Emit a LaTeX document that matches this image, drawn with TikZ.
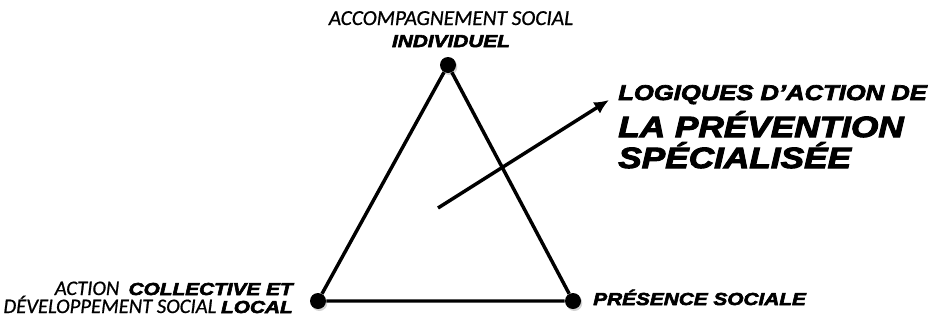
\documentclass[tikz,border=0pt]{standalone}
\usepackage{fontspec}
\setmainfont{Carlito}[FakeBold=0.8]
\newfontfamily\noir[FakeStretch=1.2,FakeBold=3.5]{Liberation Sans}
\usetikzlibrary{arrows.meta,shadows}

\newcommand{\gras}[1]{{\fontsize{13}{15}\noir\bfseries\itshape #1}}

\tikzset{
  sommet/.style={circle,fill=black,inner sep=0pt,minimum size=12pt,
    drop shadow={opacity=0.35,shadow xshift=1pt,shadow yshift=-1.5pt}},
  cote/.style={line width=2.6pt},
  petit/.style={inner sep=0pt,font=\fontsize{15.5}{13.5}\selectfont\itshape},
  grand/.style={inner sep=0pt,font=\fontsize{22}{24}\noir\bfseries\itshape},
}

\begin{document}
\begin{tikzpicture}[x=0.75pt,y=-0.75pt]
  \useasboundingbox (0,0) rectangle (933,322);

  % sommets
  \node[sommet] (haut) at (448,65) {};
  \node[sommet] (gauche) at (318,301) {};
  \node[sommet] (droite) at (573,301) {};

  % triangle
  \draw[cote] (haut) -- (gauche) -- (droite) -- (haut);

  % fleche
  \coordinate (depart) at (438,208);
  \coordinate (pointe) at (609,100);
  \draw[cote,-{Latex[length=11pt,width=10pt]}] (depart) -- (pointe);

  % etiquettes des sommets
  \node[petit,anchor=base,align=center,font=\fontsize{16}{16.5}\selectfont\itshape] (acc) at (451,47)
    {ACCOMPAGNEMENT SOCIAL\\\gras{INDIVIDUEL}};
  \node[petit,anchor=base east,align=right] (act) at (293,313)
    {ACTION\ \ \gras{COLLECTIVE ET}\\DÉVELOPPEMENT SOCIAL \gras{LOCAL}};
  \node[anchor=base west,inner sep=0pt] (pres) at (593,305) {\gras{PRÉSENCE SOCIALE}};

  % titre
  \node[anchor=base west,inner sep=0pt,font=\fontsize{16}{18}\noir\bfseries\itshape] (log) at (618,100) {LOGIQUES D’ACTION DE};
  \node[grand,anchor=base west] (prev) at (618,137) {LA PRÉVENTION};
  \node[grand,anchor=base west] (spe) at (618,168) {SPÉCIALISÉE};

\end{tikzpicture}
\end{document}
